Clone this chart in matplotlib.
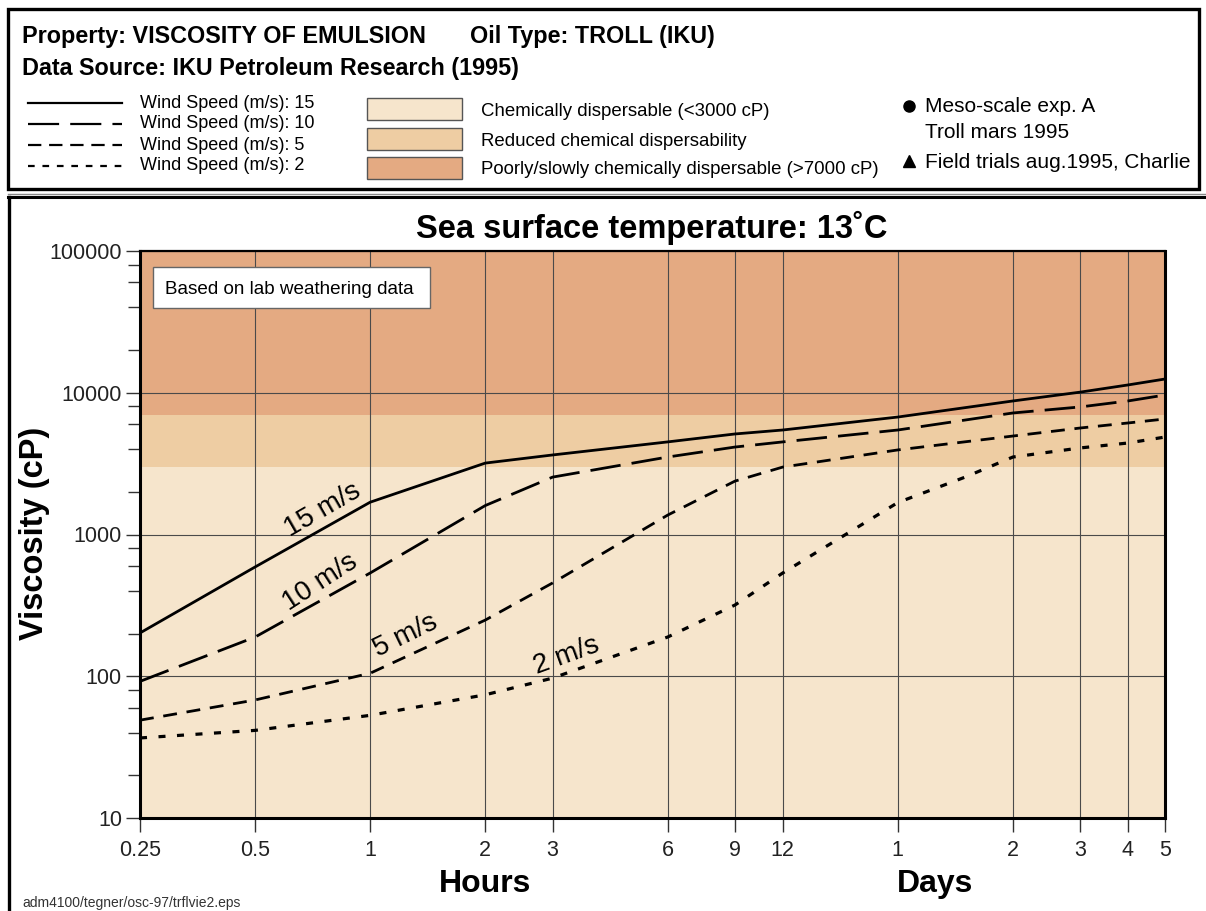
import matplotlib
matplotlib.use("Agg")
import matplotlib.pyplot as plt
from matplotlib.patches import Rectangle
from matplotlib.lines import Line2D
import numpy as np

plt.rcParams['font.family'] = ['Liberation Sans', 'DejaVu Sans']

# ---------------- data ----------------
hours_15 = [0.25, 0.5, 1, 2, 3, 6, 9, 12, 24, 48, 72, 96, 120]
visc_15 = [202, 590, 1690, 3190, 3640, 4500, 5120, 5460, 6740, 8750, 10100, 11350, 12500]

hours_10 = [0.25, 0.5, 1, 2, 3, 6, 9, 12, 24, 48, 72, 96, 120]
visc_10 = [92, 189, 535, 1600, 2540, 3520, 4140, 4500, 5460, 7200, 7940, 8750, 9640]

hours_5 = [0.25, 0.5, 1, 2, 3, 6, 9, 12, 24, 48, 72, 96, 120]
visc_5 = [49, 68, 105, 249, 455, 1370, 2380, 2990, 3950, 4950, 5640, 6120, 6530]

hours_2 = [0.25, 0.5, 1, 2, 3, 6, 9, 12, 24, 36, 48, 72, 96, 120]
visc_2 = [36.7, 41.5, 53, 74, 97, 189, 318, 535, 1680, 2540, 3520, 4080, 4420, 4870]

curve_labels = ["15 m/s", "10 m/s", "5 m/s", "2 m/s"]

xtick_hours = [0.25, 0.5, 1, 2, 3, 6, 9, 12, 24, 48, 72, 96, 120]
xtick_labels = ["0.25", "0.5", "1", "2", "3", "6", "9", "12", "1", "2", "3", "4", "5"]
ytick_vals = [10, 100, 1000, 10000, 100000]
ytick_labels = ["10", "100", "1000", "10000", "100000"]

band_limits = [10, 3000, 7000, 100000]
band_colors = ["#F6E5CC", "#EECDA3", "#E4AA82"]
band_names = ["Chemically dispersable (<3000 cP)",
              "Reduced chemical dispersability",
              "Poorly/slowly chemically dispersable (>7000 cP)"]
wind_legend = ["Wind Speed (m/s): 15", "Wind Speed (m/s): 10",
               "Wind Speed (m/s): 5", "Wind Speed (m/s): 2"]

# ---------------- figure ----------------
W, H = 1206, 911
fig = plt.figure(figsize=(W / 100, H / 100), dpi=100)
fig.patch.set_facecolor("white")

def fx(px):
    return px / W

def fy(py):
    return 1 - py / H

# header box
fig.add_artist(Rectangle((fx(8), fy(189)), fx(1199) - fx(8), fy(9) - fy(189),
                         transform=fig.transFigure, fill=False, lw=2.4, ec="black"))
# lower frame (top and left lines)
fig.add_artist(Line2D([fx(8), fx(1206)], [fy(194), fy(194)], transform=fig.transFigure,
                      color="#888888", lw=1.0))
fig.add_artist(Line2D([fx(8), fx(1206)], [fy(197), fy(197)], transform=fig.transFigure,
                      color="black", lw=2.2))
fig.add_artist(Line2D([fx(9), fx(9)], [fy(197), fy(911)], transform=fig.transFigure,
                      color="black", lw=2.4))

fig.text(fx(22), fy(37), "Property: VISCOSITY OF EMULSION", fontsize=16.8,
         fontweight="bold", va="center", ha="left")
fig.text(fx(470), fy(37), "Oil Type: TROLL (IKU)", fontsize=16.8,
         fontweight="bold", va="center", ha="left")
fig.text(fx(22), fy(69), "Data Source: IKU Petroleum Research (1995)", fontsize=16.8,
         fontweight="bold", va="center", ha="left")

leg_styles = [dict(ls="-"), dict(dashes=(14, 5)), dict(dashes=(6, 3.5)), dict(dashes=(3, 3.5))]
leg_y = [103, 124, 145, 166]
for st, yy, txt in zip(leg_styles, leg_y, wind_legend):
    fig.add_artist(Line2D([fx(28), fx(122)], [fy(yy), fy(yy)], transform=fig.transFigure,
                          color="black", lw=1.6, **st))
    fig.text(fx(140), fy(yy), txt, fontsize=13.0, va="center", ha="left")

sw_y = [109, 139, 168]
for c, yy, txt in zip(band_colors, sw_y, band_names):
    fig.add_artist(Rectangle((fx(367), fy(yy + 11)), fx(462) - fx(367), fy(yy - 11) - fy(yy + 11),
                             transform=fig.transFigure, fc=c, ec="#555555", lw=1.0))
    fig.text(fx(481), fy(yy + 2), txt, fontsize=13.4, va="center", ha="left")

fig.add_artist(Line2D([fx(909)], [fy(106)], transform=fig.transFigure, marker="o",
                      ms=8, color="black", ls="none"))
fig.text(fx(925), fy(107), "Meso-scale exp. A", fontsize=15.0, va="center", ha="left")
fig.text(fx(925), fy(133), "Troll mars 1995", fontsize=15.0, va="center", ha="left")
fig.add_artist(Line2D([fx(909)], [fy(161)], transform=fig.transFigure, marker="^",
                      ms=8, color="black", ls="none"))
fig.text(fx(925), fy(162), "Field trials aug.1995, Charlie", fontsize=15.0,
         va="center", ha="left")

# ---------------- axes ----------------
ax = fig.add_axes([fx(140), fy(818), fx(1165) - fx(140), fy(251) - fy(818)])
ax.set_xscale("log")
ax.set_yscale("log")
ax.set_xlim(0.25, 120)
ax.set_ylim(10, 100000)

for lo, hi, c in zip(band_limits[:-1], band_limits[1:], band_colors):
    ax.axhspan(lo, hi, color=c, lw=0, zorder=0.1)

ax.set_axisbelow("line")
ax.set_xticks(xtick_hours)
ax.set_xticklabels(xtick_labels)
ax.xaxis.set_minor_locator(matplotlib.ticker.NullLocator())
ax.set_yticks(ytick_vals)
ax.set_yticklabels(ytick_labels)
ymin = [m * 10 ** e for e in range(1, 5) for m in (2, 4, 6, 8)]
ax.set_yticks(ymin, minor=True)
ax.yaxis.set_minor_formatter(matplotlib.ticker.NullFormatter())
ax.grid(True, which="major", color="#4a4a4a", lw=0.8)
ax.tick_params(axis="both", which="major", direction="out", length=10, width=1.0,
               labelsize=15.5, color="#333333", labelcolor="#222222")
ax.tick_params(axis="y", which="minor", direction="out", length=9, width=1.0, color="#333333")
ax.tick_params(axis="x", pad=6)
ax.tick_params(axis="y", pad=3)

for s in ["left", "bottom", "right"]:
    ax.spines[s].set_linewidth(2.2)
ax.spines["top"].set_linewidth(1.6)

lw = 2.0
ax.plot(hours_15, visc_15, color="black", lw=lw, ls="-", zorder=3)
ax.plot(hours_10, visc_10, color="black", lw=lw, dashes=(11, 4), zorder=3)
ax.plot(hours_5, visc_5, color="black", lw=lw, dashes=(5, 3.5), zorder=3)
ax.plot(hours_2, visc_2, color="black", lw=lw + 0.3, dashes=(2.2, 3.6), zorder=3)

# curve labels (positions in data coords, rotation in degrees)
lab_pos = [(0.75, 1490, 30), (0.74, 462, 33), (1.24, 192, 26), (3.27, 139, 20)]
for txt, (xx, yy, rot) in zip(curve_labels, lab_pos):
    ax.text(xx, yy, txt, fontsize=20, rotation=rot, ha="center", va="center",
            rotation_mode="anchor", zorder=4)

# info box
fig.add_artist(Rectangle((fx(153), fy(308)), fx(430) - fx(153), fy(267) - fy(308),
                         transform=fig.transFigure, fc="white", ec="#666666", lw=1.0, zorder=5))
fig.text(fx(165), fy(289), "Based on lab weathering data", fontsize=13.6, va="center",
         ha="left", zorder=6)

fig.text(fx(652), fy(228), "Sea surface temperature: 13˚C", fontsize=23.5,
         fontweight="bold", ha="center", va="center")
fig.text(fx(35), fy(533), "Viscosity (cP)", fontsize=23.5, fontweight="bold",
         rotation=90, ha="center", va="center")
fig.text(fx(485), fy(884), "Hours", fontsize=23, fontweight="bold", ha="center", va="center")
fig.text(fx(935), fy(884), "Days", fontsize=23, fontweight="bold", ha="center", va="center")
fig.text(fx(22), fy(903), "adm4100/tegner/osc-97/trflvie2.eps", fontsize=10,
         ha="left", va="center", color="#333333")

fig.savefig("out.png", dpi=100)
